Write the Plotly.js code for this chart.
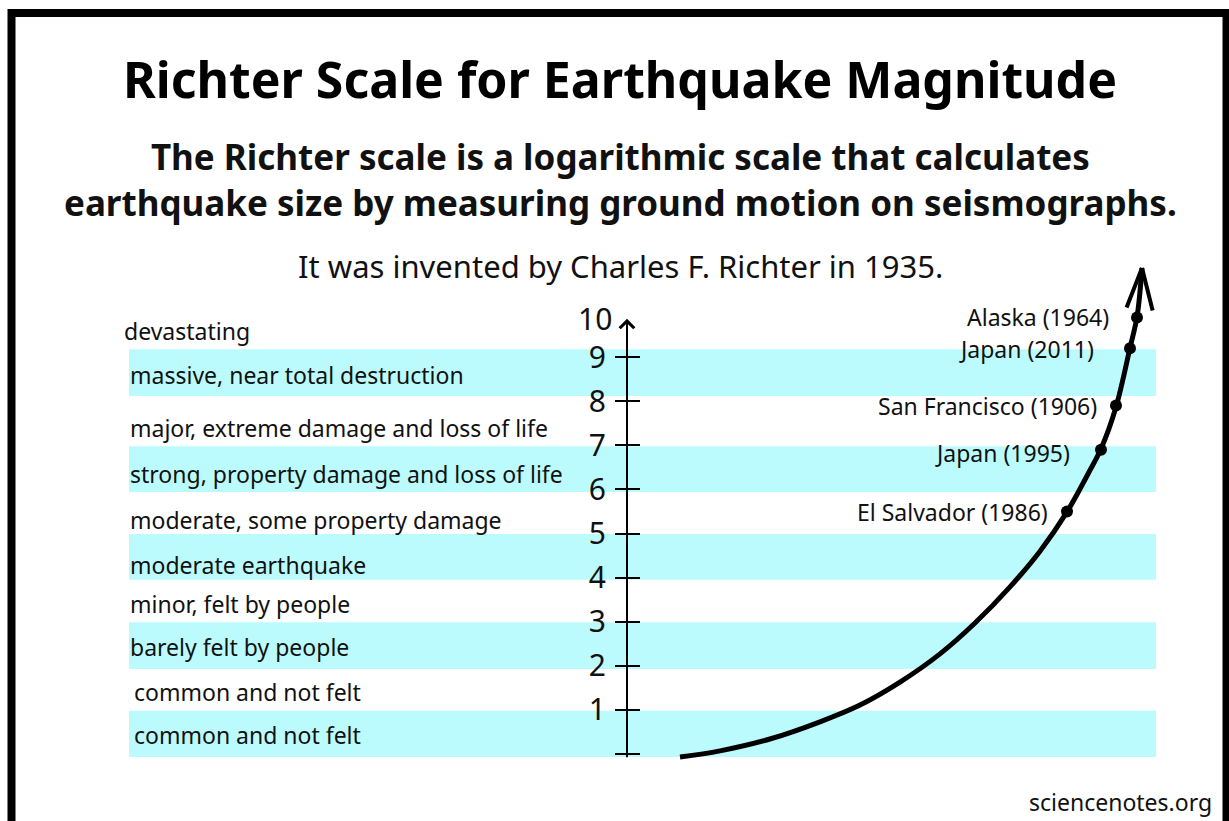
<!DOCTYPE html>
<html>
<head>
<meta charset="utf-8">
<script src="https://cdn.plot.ly/plotly-3.0.1.min.js"></script>
<style>html,body{margin:0;padding:0;background:#fff;}#chart{width:1229px;height:821px;}</style>
</head>
<body>
<div id="chart"></div>
<script>
// ---------- data ----------
const titleText = 'Richter Scale for Earthquake Magnitude';
const subtitleLines = ['The Richter scale is a logarithmic scale that calculates',
                       'earthquake size by measuring ground motion on seismographs.'];
const noteText = 'It was invented by Charles F. Richter in 1935.';
const sourceText = 'sciencenotes.org';

// magnitude axis
const tickVals = [0, 1, 2, 3, 4, 5, 6, 7, 8, 9];
const tickText = ['', '1', '2', '3', '4', '5', '6', '7', '8', '9'];
const topTickLabel = '10';
const axisTop = 9.87;
const axisBottom = -0.11;

// descriptive levels (bottom to top)
const levelLabels = ['common and not felt', 'common and not felt', 'barely felt by people',
  'minor, felt by people', 'moderate earthquake', 'moderate, some property damage',
  'strong, property damage and loss of life', 'major, extreme damage and loss of life',
  'massive, near total destruction', 'devastating'];
const levelMag = [0.43, 1.41, 2.43, 3.40, 4.29, 5.31, 6.35, 7.39, 8.59, 9.59];

// shaded bands (magnitude ranges)
const bandLow  = [-0.07, 1.93, 3.95, 5.94, 8.12];
const bandHigh = [0.98, 2.99, 4.99, 6.98, 9.18];

// growth curve (horizontal position, magnitude)
const curveX = [680, 720, 770, 820, 860, 900, 940, 975, 1010, 1040, 1067, 1088, 1101, 1116, 1130, 1137, 1142];
const curveM = [-0.07, 0.07, 0.34, 0.73, 1.11, 1.63, 2.27, 2.97, 3.79, 4.60, 5.49, 6.35, 6.92, 7.87, 9.21, 9.91, 11.02];

// notable earthquakes
const eventNames = ['El Salvador (1986)', 'Japan (1995)', 'San Francisco (1906)', 'Japan (2011)', 'Alaska (1964)'];
const eventX   = [1067, 1101, 1116, 1130, 1137];
const eventMag = [5.5, 6.9, 7.9, 9.2, 9.9];

// ---------- layout helpers (positions / styles) ----------
const W = 1229, H = 821;
const pxPerUnit = 44.1, zeroPx = 754;
const yTop = zeroPx / pxPerUnit, yBot = -(H - zeroPx) / pxPerUnit;
const axisXpos = 627;
const labelLeft = [132, 132, 128, 128, 128, 128, 128, 128, 128, 122];
const eventShift = [-17, -29, -17, -34, -26];
const eventYShift = [-1, -3, 0, -1, 0];
const FONT = 'Noto Sans, Open Sans, sans-serif';
const bandColor = '#bcfbfd';
const textColor = '#111111';

const traces = [
  { x: curveX, y: curveM, type: 'scatter', mode: 'lines',
    line: { color: '#000', width: 5, shape: 'spline', smoothing: 1 },
    hoverinfo: 'skip', showlegend: false },
  { x: eventX, y: eventMag, type: 'scatter', mode: 'markers',
    marker: { color: '#000', size: 12 }, text: eventNames,
    hoverinfo: 'text', showlegend: false },
  // second overlaying axis carries the inner half of the ticks
  { x: [curveX[0]], y: [curveM[0]], yaxis: 'y2', type: 'scatter', mode: 'markers',
    marker: { opacity: 0 }, hoverinfo: 'skip', showlegend: false }
];

const shapes = bandLow.map((lo, i) => ({
  type: 'rect', xref: 'x', yref: 'y', x0: 129, x1: 1156, y0: lo, y1: bandHigh[i],
  fillcolor: bandColor, line: { width: 0 }, layer: 'below'
}));
shapes.push({ type: 'rect', xref: 'paper', yref: 'paper',
  x0: 11.5 / W, x1: 1226.5 / W, y0: -0.05, y1: 1 - 13 / H,
  line: { color: '#000', width: 8 }, fillcolor: 'rgba(0,0,0,0)' });

const annotations = [];
// subtitle and note
annotations.push({ xref: 'x', yref: 'paper', x: 620, y: 1 - 179.5 / H, xanchor: 'center', yanchor: 'middle',
  text: '<b>' + subtitleLines.join('<br>') + '</b>', showarrow: false, align: 'center',
  font: { family: FONT, size: 35, color: textColor } });
annotations.push({ xref: 'x', yref: 'paper', x: 620, y: 1 - 266 / H, xanchor: 'center', yanchor: 'middle',
  text: noteText, showarrow: false, font: { family: FONT, size: 31, color: textColor } });
annotations.push({ xref: 'x', yref: 'paper', x: 1214, y: 1 - 802 / H, xanchor: 'right', yanchor: 'middle',
  text: sourceText, showarrow: false, font: { family: FONT, size: 23, color: textColor } });
// level labels
levelLabels.forEach((t, i) => annotations.push({
  xref: 'x', yref: 'y', x: labelLeft[i], y: levelMag[i], xanchor: 'left', yanchor: 'middle',
  text: t, showarrow: false, font: { family: FONT, size: 23, color: textColor } }));
// axis arrow line
annotations.push({ xref: 'x', yref: 'y', axref: 'x', ayref: 'y', x: axisXpos, y: axisTop,
  ax: axisXpos, ay: axisBottom, text: '', showarrow: true, arrowhead: 4, arrowsize: 1.4,
  arrowwidth: 2, arrowcolor: '#000', standoff: 0, startstandoff: 0 });
// top tick label
annotations.push({ xref: 'x', yref: 'y', x: 614, y: axisTop, xanchor: 'right', yanchor: 'middle',
  text: topTickLabel, showarrow: false, font: { family: FONT, size: 30, color: textColor } });
// curve arrow head (two arms from the curve tip)
const tipX = curveX[curveX.length - 1], tipM = curveM[curveM.length - 1];
[[-16, 41], [11, 44]].forEach(([dx, dy]) => annotations.push({
  xref: 'x', yref: 'y', x: tipX, y: tipM, ax: dx, ay: dy, text: '', showarrow: true,
  arrowhead: 0, arrowwidth: 4, arrowcolor: '#000', standoff: 0, startstandoff: 0 }));
// event labels
eventNames.forEach((t, i) => annotations.push({
  xref: 'x', yref: 'y', x: eventX[i], y: eventMag[i], xanchor: 'right', yanchor: 'middle',
  xshift: eventShift[i], yshift: eventYShift[i], text: t, showarrow: false,
  font: { family: FONT, size: 23, color: textColor } }));

const axisCommon = { range: [yBot, yTop], anchor: 'free', position: axisXpos / W,
  showgrid: false, zeroline: false, showline: false, tickvals: tickVals,
  ticklen: 12, tickwidth: 2, tickcolor: '#000', fixedrange: true };

const layout = {
  width: W, height: H,
  margin: { l: 0, r: 0, t: 0, b: 0, pad: 0 },
  paper_bgcolor: '#fff', plot_bgcolor: '#fff',
  title: { text: '<b>' + titleText + '</b>', x: 620 / W, xanchor: 'center', y: 1 - 80 / H, yanchor: 'middle',
    font: { family: FONT, size: 50, color: '#000' } },
  xaxis: { range: [0, W], visible: false, fixedrange: true },
  yaxis: Object.assign({}, axisCommon, { side: 'left', ticks: 'outside', ticktext: tickText,
    tickfont: { family: FONT, size: 30, color: textColor }, ticklabelstandoff: 3 }),
  yaxis2: Object.assign({}, axisCommon, { overlaying: 'y', side: 'left', ticks: 'inside',
    showticklabels: false }),
  shapes: shapes,
  annotations: annotations,
  showlegend: false,
  hovermode: 'closest'
};

Plotly.newPlot('chart', traces, layout, { displayModeBar: false, staticPlot: false });
</script>
</body>
</html>
